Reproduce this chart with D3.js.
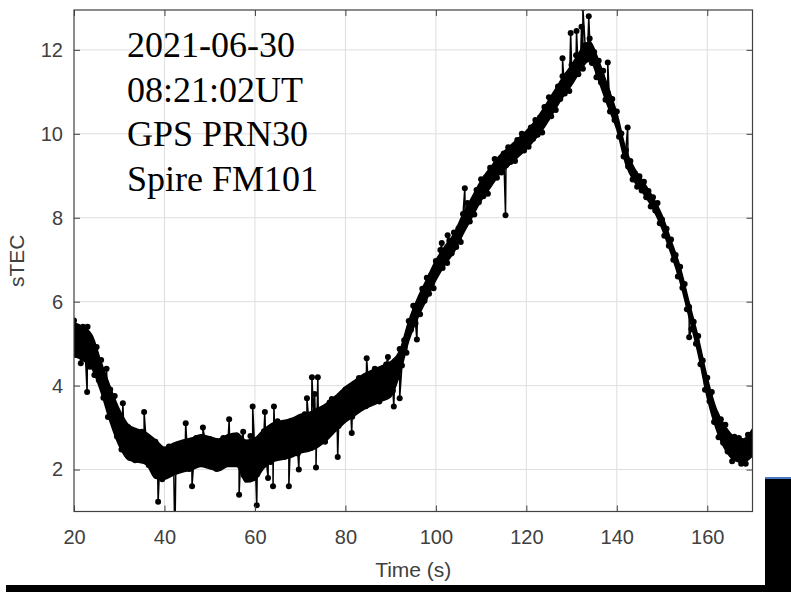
<!DOCTYPE html>
<html>
<head>
<meta charset="utf-8">
<script src="https://cdn.jsdelivr.net/npm/d3@7"></script>
<style>
  html, body { margin: 0; padding: 0; background: #fff; }
  svg { display: block; }
</style>
</head>
<body>
<div id="chart"></div>
<script>
// sTEC samples every 0.5 s from t = 20 s to 170 s
const T_START = 20;
const T_STEP = 0.5;
const stec = [
  5.55,4.73,5.30,4.53,5.40,4.75,5.40,4.45,4.95,4.25,
  4.92,4.13,4.61,3.71,4.08,3.25,3.91,3.24,3.75,2.79,
  3.14,2.48,3.03,2.46,3.01,2.35,2.79,2.22,2.86,2.42,
  2.90,2.24,2.61,2.11,2.68,2.07,2.66,1.89,2.28,1.77,
  2.43,2.03,2.55,1.94,2.36,1.96,2.55,2.10,2.64,2.10,
  2.53,2.01,2.65,2.25,2.75,2.14,2.56,2.13,2.67,2.20,
  2.72,2.15,2.55,2.01,2.63,2.23,2.75,2.14,2.56,2.17,
  2.75,2.26,2.80,2.19,2.65,1.87,2.60,2.05,2.80,1.87,
  2.40,1.89,2.72,2.18,2.91,2.24,2.83,2.18,3.01,2.50,
  3.15,2.34,2.84,2.30,3.02,2.45,3.16,2.47,3.03,2.38,
  3.21,2.68,3.32,2.52,3.04,2.52,3.27,2.70,3.41,2.73,
  3.31,2.66,3.51,3.02,3.68,2.96,3.47,3.04,3.73,3.26,
  3.91,3.31,3.83,3.26,4.02,3.58,4.18,3.49,3.97,3.51,
  4.18,3.68,4.31,3.69,4.20,3.62,4.37,3.91,4.50,3.80,
  4.27,3.88,4.55,4.21,4.87,4.48,5.08,4.78,5.54,5.33,
  5.90,5.48,5.94,5.70,6.31,6.02,6.57,6.19,6.65,6.32,
  6.97,6.74,7.23,6.80,7.18,6.92,7.45,7.15,7.65,7.30,
  7.75,7.42,8.09,7.83,8.35,7.91,8.34,8.08,8.66,8.37,
  8.92,8.51,8.95,8.57,9.19,8.90,9.40,8.95,9.33,9.08,
  9.53,9.25,9.68,9.33,9.68,9.35,9.85,9.60,10.00,9.60,
  9.93,9.69,10.15,9.88,10.33,9.98,10.39,10.03,10.64,10.37,
  10.87,10.42,10.84,10.57,11.13,10.83,11.37,10.96,11.40,11.02,
  11.64,11.37,11.87,11.42,11.84,11.55,12.11,11.77,12.27,11.69,
  11.95,11.35,11.74,11.23,11.50,10.81,10.99,10.53,10.83,10.33,
  10.53,9.93,10.01,9.46,9.61,9.22,9.35,8.91,9.06,8.74,
  8.99,8.65,8.86,8.49,8.64,8.27,8.49,8.17,8.35,7.87,
  7.96,7.57,7.74,7.33,7.48,7.00,7.11,6.60,6.83,6.33,
  6.42,5.82,5.87,5.35,5.52,5.00,5.18,4.51,4.60,3.90,
  4.19,3.63,3.85,3.13,3.30,2.77,3.20,2.64,3.07,2.43,
  2.78,2.20,2.78,2.31,2.75,2.14,2.56,2.14,2.83,2.36,
  2.75
];

// single-sample outliers (time, value)
const spikeTime = [22.9, 27.2, 30.8, 35.5, 38.6, 42.3, 44.7, 46.1, 48.5, 54.3,
  56.5, 57.4, 59.5, 60.4, 62.2, 62.9, 64.0, 64.2, 67.5, 69.7,
  71.5, 72.6, 73.2, 73.5, 73.9, 76.5, 78.1, 78.3, 80.1, 81.4,
  84.7, 86.5, 89.4, 90.7, 92.0, 95.8, 101.3, 102.6, 106.4, 115.4,
  128.0, 129.8, 131.1, 132.2, 132.5, 133.8, 138.0, 142.4, 156.0];
const spikeValue = [3.85, 4.4, 3.58, 3.37, 1.23, 0.3, 3.1, 1.6, 3.0, 3.2,
  1.4, 2.9, 3.5, 1.15, 3.37, 1.8, 1.6, 3.5, 1.6, 2.0,
  3.7, 4.2, 3.8, 2.05, 4.2, 3.6, 3.6, 2.3, 3.7, 2.87,
  4.65, 4.4, 4.68, 3.5, 3.7, 5.1, 7.4, 7.58, 8.7, 8.06,
  11.8, 12.4, 12.45, 12.55, 13.0, 12.8, 11.7, 10.15, 5.15];

// dense core of the noisy trace, every 2 s (lower / upper edge)
const bandTime = [20, 22, 24, 26, 28, 30, 32, 34, 36, 38, 40, 42, 44, 46, 48, 50, 52, 54, 56, 58,
  60, 62, 64, 66, 68, 70, 72, 74, 76, 78, 80, 82, 84, 86, 88, 90, 92, 94, 96, 98,
  100, 102, 104, 106, 108, 110, 112, 114, 116, 118, 120, 122, 124, 126, 128, 130, 132, 134, 136, 138,
  140, 142, 144, 146, 148, 150, 152, 154, 156, 158, 160, 162, 164, 166, 168, 170];
const bandLow = [4.70, 4.60, 4.40, 3.84, 3.13, 2.56, 2.23, 2.18, 2.12, 1.79, 1.77, 1.87, 1.94, 1.99, 2.07, 2.02, 1.97, 2.07, 2.07, 1.70,
  1.75, 2.04, 2.19, 2.24, 2.29, 2.39, 2.44, 2.54, 2.71, 2.93, 3.13, 3.28, 3.43, 3.53, 3.63, 3.73, 4.27, 5.06, 5.61, 6.06,
  6.51, 6.88, 7.18, 7.61, 8.01, 8.41, 8.71, 9.03, 9.23, 9.43, 9.63, 9.88, 10.16, 10.51, 10.86, 11.16, 11.51, 11.76, 11.26, 10.66,
  10.10, 9.27, 8.84, 8.56, 8.21, 7.74, 7.14, 6.47, 5.62, 4.75, 3.71, 2.96, 2.47, 2.22, 2.17, 2.33];
const bandHigh = [5.50, 5.40, 5.20, 4.56, 3.97, 3.44, 3.07, 2.96, 2.88, 2.71, 2.53, 2.63, 2.70, 2.75, 2.83, 2.78, 2.73, 2.83, 2.87, 2.70,
  2.75, 2.96, 3.11, 3.16, 3.21, 3.31, 3.36, 3.46, 3.59, 3.77, 3.97, 4.12, 4.27, 4.37, 4.47, 4.57, 4.83, 5.54, 6.09, 6.54,
  6.99, 7.32, 7.62, 8.09, 8.49, 8.89, 9.19, 9.47, 9.67, 9.87, 10.07, 10.32, 10.64, 10.99, 11.34, 11.64, 11.99, 12.20, 11.74, 11.14,
  10.50, 9.63, 9.16, 8.84, 8.49, 8.06, 7.46, 6.83, 5.98, 5.15, 4.19, 3.44, 3.03, 2.78, 2.73, 2.97];

const xTicks = [20, 40, 60, 80, 100, 120, 140, 160];
const yTicks = [2, 4, 6, 8, 10, 12];
const noteLines = ["2021-06-30", "08:21:02UT", "GPS PRN30", "Spire FM101"];

const W = 791, H = 592;
const PLOT = { left: 74, right: 752.5, top: 10, bottom: 511.5 };
const AXIS_COLOR = "#404040";
const TICK_FONT = "'Liberation Sans', Arial, sans-serif";

const points = stec.map((v, i) => ({ t: T_START + i * T_STEP, v }))
  .concat(spikeTime.map((t, i) => ({ t, v: spikeValue[i] })))
  .sort((a, b) => a.t - b.t);
const band = bandTime.map((t, i) => ({ t, lo: bandLow[i], hi: bandHigh[i] }));

const svg = d3.select("#chart").append("svg")
  .attr("width", W)
  .attr("height", H);

const x = d3.scaleLinear().domain([20, 170]).range([PLOT.left, PLOT.right]);
const y = d3.scaleLinear().domain([1, 12.95]).range([PLOT.bottom, PLOT.top]);

// clip for data
svg.append("defs").append("clipPath").attr("id", "plotClip")
  .append("rect")
  .attr("x", PLOT.left).attr("y", PLOT.top)
  .attr("width", PLOT.right - PLOT.left)
  .attr("height", PLOT.bottom - PLOT.top);

// grid
const grid = svg.append("g").attr("stroke", "#dedede").attr("stroke-width", 1);
grid.selectAll("line.gx").data(xTicks.slice(1)).join("line")
  .attr("x1", d => x(d)).attr("x2", d => x(d))
  .attr("y1", PLOT.top).attr("y2", PLOT.bottom);
grid.selectAll("line.gy").data(yTicks).join("line")
  .attr("y1", d => y(d)).attr("y2", d => y(d))
  .attr("x1", PLOT.left).attr("x2", PLOT.right);

const dataG = svg.append("g").attr("clip-path", "url(#plotClip)");

// solid core where the samples overlap
dataG.append("path")
  .datum(band)
  .attr("fill", "#000")
  .attr("stroke", "#000")
  .attr("stroke-width", 1.5)
  .attr("stroke-linejoin", "round")
  .attr("d", d3.area().x(d => x(d.t)).y0(d => y(d.lo)).y1(d => y(d.hi)).curve(d3.curveMonotoneX));

// data line with dot markers
dataG.append("path")
  .datum(points)
  .attr("fill", "none")
  .attr("stroke", "#000")
  .attr("stroke-width", 1.5)
  .attr("stroke-linejoin", "round")
  .attr("d", d3.line().x(d => x(d.t)).y(d => y(d.v)));
dataG.selectAll("circle").data(points).join("circle")
  .attr("cx", d => x(d.t))
  .attr("cy", d => y(d.v))
  .attr("r", 3)
  .attr("fill", "#000");

// axes: ticks inward on all four sides
function styleAxis(g) {
  g.select(".domain").remove();
  g.selectAll(".tick line").attr("stroke", AXIS_COLOR);
  g.selectAll(".tick text")
    .attr("fill", AXIS_COLOR)
    .attr("font-family", TICK_FONT)
    .attr("font-size", "20px");
}
svg.append("g")
  .attr("transform", `translate(0,${PLOT.bottom})`)
  .call(d3.axisBottom(x).tickValues(xTicks).tickSizeInner(-6).tickSizeOuter(0).tickPadding(18))
  .call(styleAxis);
svg.append("g")
  .attr("transform", `translate(0,${PLOT.top})`)
  .call(d3.axisTop(x).tickValues(xTicks).tickSizeInner(-6).tickSizeOuter(0).tickFormat(""))
  .call(styleAxis);
svg.append("g")
  .attr("transform", `translate(${PLOT.left},0)`)
  .call(d3.axisLeft(y).tickValues(yTicks).tickSizeInner(-6).tickSizeOuter(0).tickPadding(11))
  .call(styleAxis);
svg.append("g")
  .attr("transform", `translate(${PLOT.right},0)`)
  .call(d3.axisRight(y).tickValues(yTicks).tickSizeInner(-6).tickSizeOuter(0).tickFormat(""))
  .call(styleAxis);

// axes box
svg.append("rect")
  .attr("x", PLOT.left).attr("y", PLOT.top)
  .attr("width", PLOT.right - PLOT.left)
  .attr("height", PLOT.bottom - PLOT.top)
  .attr("fill", "none")
  .attr("stroke", AXIS_COLOR)
  .attr("stroke-width", 1.2);

// axis labels
svg.append("text")
  .text("Time (s)")
  .attr("x", (PLOT.left + PLOT.right) / 2)
  .attr("y", 577)
  .attr("text-anchor", "middle")
  .attr("font-family", TICK_FONT)
  .attr("font-size", "21px")
  .attr("fill", AXIS_COLOR);
svg.append("text")
  .text("sTEC")
  .attr("text-anchor", "middle")
  .attr("font-family", TICK_FONT)
  .attr("font-size", "21px")
  .attr("fill", AXIS_COLOR)
  .attr("transform", `translate(24,${(PLOT.top + PLOT.bottom) / 2}) rotate(-90)`);

// annotation block
svg.append("g").selectAll("text").data(noteLines).join("text")
  .text(d => d)
  .attr("x", 127)
  .attr("y", (_, i) => 57 + i * 44.5)
  .attr("font-family", "'Liberation Serif', 'Times New Roman', serif")
  .attr("font-size", "36px")
  .attr("fill", "#000");

// black cropping edges at bottom and right
svg.append("rect").attr("x", 6).attr("y", 585).attr("width", W - 6).attr("height", 7).attr("fill", "#000");
svg.append("rect").attr("x", 765).attr("y", 478).attr("width", W - 765).attr("height", H - 478).attr("fill", "#000");
svg.append("rect").attr("x", 765).attr("y", 477).attr("width", W - 765).attr("height", 2).attr("fill", "#4a78c8");
</script>
</body>
</html>
